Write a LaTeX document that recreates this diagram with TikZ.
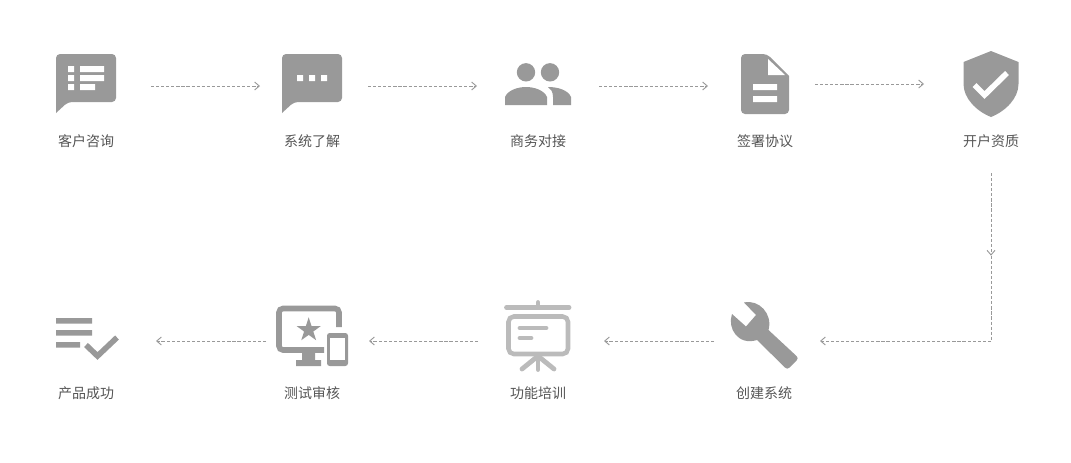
\documentclass[tikz,border=0pt]{standalone}
\usepackage{fontspec}
\setmainfont{Noto Sans CJK SC}
\usetikzlibrary{positioning,arrows.meta,shapes.geometric}
\definecolor{icongray}{HTML}{999999}
\definecolor{boardgray}{HTML}{BBBBBB}
\definecolor{labelgray}{HTML}{555555}
\tikzset{
	iconbox/.style={minimum size=45pt,inner sep=0pt,outer sep=0pt},
	steplabel/.style={below=16.5pt of #1,text=labelgray,font=\fontsize{10.5pt}{12pt}\selectfont,
		text height=8pt,text depth=2pt,inner sep=0pt},
	flowline/.style={draw=icongray,line width=.7pt,dash pattern=on 2.4pt off 1.4pt,
		-{Straight Barb[length=3.5pt,width=6pt,line width=.7pt]}},
	plainline/.style={draw=icongray,line width=.7pt,dash pattern=on 2.4pt off 1.4pt},
	thickline/.style={draw=#1,line width=3.6pt,line cap=round,line join=round},
}
\begin{document}
\begin{tikzpicture}[x=.75pt,y=-.75pt]
	\useasboundingbox (0,0) rectangle (1071,462);
	% anchors of the steps
	\node[iconbox] (ask) at (86,84) {};
	\node[iconbox] (learn) at (312,84) {};
	\node[iconbox] (meet) at (538,84) {};
	\node[iconbox] (sign) at (765,84) {};
	\node[iconbox] (check) at (991,84) {};
	\node[iconbox] (build) at (764,336) {};
	\node[iconbox] (train) at (538,336) {};
	\node[iconbox] (test) at (312,336) {};
	\node[iconbox] (done) at (86,336) {};
	% labels
	\node[steplabel=ask] (asklabel) {客户咨询};
	\node[steplabel=learn] (learnlabel) {系统了解};
	\node[steplabel=meet] (meetlabel) {商务对接};
	\node[steplabel=sign] (signlabel) {签署协议};
	\node[steplabel=check] (checklabel) {开户资质};
	\node[steplabel=build] (buildlabel) {创建系统};
	\node[steplabel=train] (trainlabel) {功能培训};
	\node[steplabel=test] (testlabel) {测试审核};
	\node[steplabel=done] (donelabel) {产品成功};
	% connectors
	\draw[flowline] ([shift={(35,2)}]ask.east) -- ([shift={(-22,2)}]learn.west);
	\draw[flowline] ([shift={(26,2)}]learn.east) -- ([shift={(-31,2)}]meet.west);
	\draw[flowline] ([shift={(31,2)}]meet.east) -- ([shift={(-27,2)}]sign.west);
	\draw[flowline] ([shift={(20,0)}]sign.east) -- ([shift={(-37,0)}]check.west);
	\coordinate (bend) at (991,341);
	\draw[flowline] ([yshift=-44.25pt]check.south) -- ([yshift=64pt]bend);
	\draw[plainline] ([yshift=64pt]bend) -- (bend);
	\draw[flowline] (bend) -- ([shift={(26,5)}]build.east);
	\draw[flowline] ([shift={(-20,5)}]build.west) -- ([shift={(36,5)}]train.east);
	\draw[flowline] ([shift={(-30,5)}]train.west) -- ([shift={(27,5)}]test.east);
	\draw[flowline] ([shift={(-16,5)}]test.west) -- ([shift={(40,5)}]done.east);
	% ask
	\fill[icongray,rounded corners=3pt] (56,113) -- (56,54) -- (116,54) -- (116,102) -- (68,102) [sharp corners] -- cycle;
	\fill[white] (68,66) rectangle (74,72) (68,75) rectangle (74,81) (68,84) rectangle (74,90)
		(80,66) rectangle (104,72) (80,75) rectangle (104,81) (80,84) rectangle (95,90);
	% learn
	\fill[icongray,rounded corners=3pt] (282,113) -- (282,54) -- (342,54) -- (342,102) -- (294,102) [sharp corners] -- cycle;
	\fill[white] (297,75) rectangle (303,81) (309,75) rectangle (315,81) (321,75) rectangle (327,81);
	% meet
	\fill[icongray] (526,72.3) circle (6.9pt) (550,72.3) circle (6.9pt);
	\fill[icongray] (505,105) -- (505,97) .. controls (508,90) and (518,87) .. (526,87)
		.. controls (534,87) and (544,90) .. (547,97) -- (547,105) -- cycle;
	\fill[icongray] (553,105) -- (553,97) .. controls (553,92) and (551,89) .. (548,87)
		.. controls (558,87) and (568,90) .. (571,97) -- (571,105) -- cycle;
	% sign
	\fill[icongray,rounded corners=3pt] (741,54) -- (767,54) [sharp corners] -- (789,76) [rounded corners=3pt] -- (789,114) -- (741,114) -- cycle;
	\fill[white] (768,59) -- (768,75) -- (785,75) -- cycle;
	\fill[white] (753,84) rectangle (777,90) (753,96) rectangle (777,102);
	% check
	\fill[icongray] (991,51) -- (1018.5,62) -- (1018.5,84) .. controls (1018.5,98) and (1006,111) .. (991,117)
		.. controls (976,111) and (963.5,98) .. (963.5,84) -- (963.5,62) -- cycle;
	\draw[white,line width=4.2pt] (974.5,85) -- (984.5,95) -- (1007,73);
	% build
	\fill[icongray] (744,302.5) -- (756,315) -- (746,326.5) -- (732,314)
		.. controls (727,328) and (738,346) .. (757,340) -- (785,367.5)
		.. controls (786.5,369) and (788,369) .. (789.5,367.5) -- (796.5,360.5)
		.. controls (798,359) and (798,357.5) .. (796.5,356) -- (768.5,330)
		.. controls (773,314) and (759,299) .. (744,302.5) -- cycle;
	% train
	\draw[thickline=boardgray] (506.5,307.5) -- (569,307.5);
	\draw[thickline=boardgray] (538,302.5) -- (538,307);
	\draw[boardgray,line width=3.4pt,rounded corners=4pt] (508.5,316.5) rectangle (568,354);
	\draw[thickline=boardgray] (538,356) -- (538,369.5);
	\draw[thickline=boardgray] (538,356) -- (522,369);
	\draw[thickline=boardgray] (538,356) -- (554,369);
	\draw[thickline=boardgray] (520,328) -- (546,328);
	\draw[thickline=boardgray] (520,338) -- (531,338);
	% test
	\draw[icongray,line width=4.2pt,rounded corners=3pt] (339,327) -- (339,308.5) -- (279,308.5) -- (279,350) -- (324,350);
	\fill[icongray] (302,352) rectangle (315,360) (296,360) rectangle (321,366);
	\node[star,star points=5,star point ratio=2.6,fill=icongray,inner sep=0pt,minimum size=19pt] (teststar) at (308.7,330) {};
	\fill[icongray,rounded corners=2pt] (327,333) rectangle (348,366);
	\fill[white] (330,338) rectangle (345,360);
	% done
	\fill[icongray] (56,318) rectangle (92,323.5) (56,330) rectangle (92,335.5) (56,342) rectangle (80,347.5);
	\draw[icongray,line width=4.2pt] (86,345) -- (97.5,356) -- (117,337.5);
\end{tikzpicture}
\end{document}
